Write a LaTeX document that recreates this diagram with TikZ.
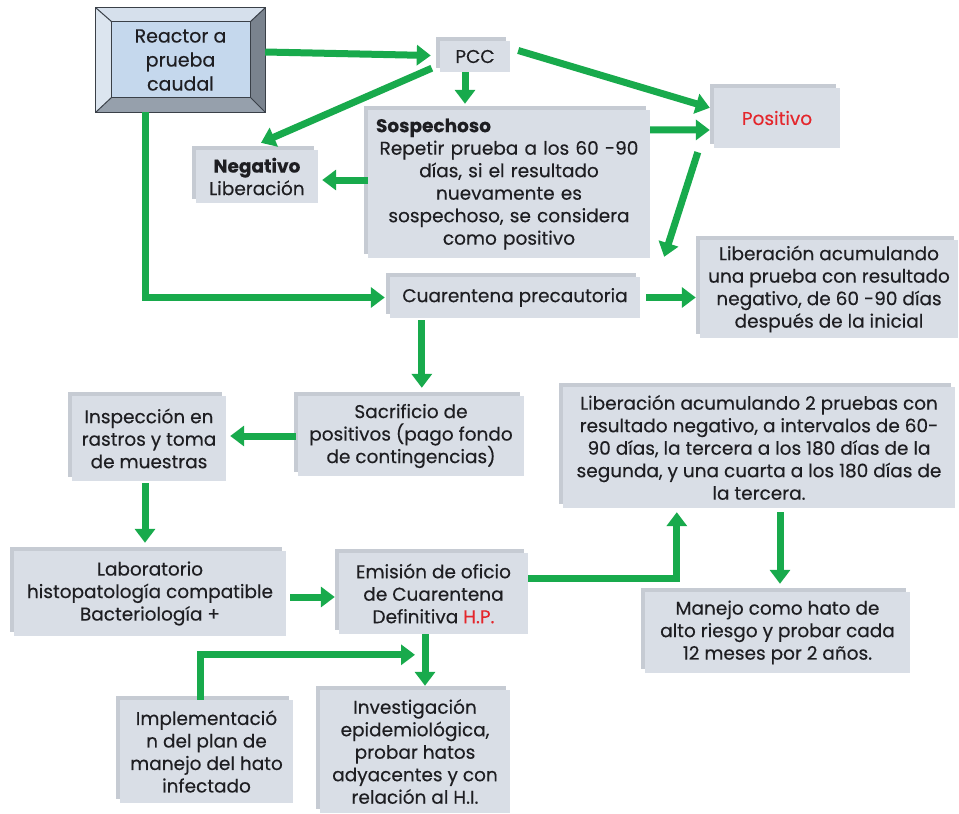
\documentclass[tikz,border=0pt]{standalone}
\usepackage{fontspec}
\setmainfont{Poppins}[FakeBold=0.3]
\usetikzlibrary{arrows.meta,calc,shadows,backgrounds}

\definecolor{flowgreen}{RGB}{24,170,76}
\definecolor{cardfill}{RGB}{217,222,230}
\definecolor{cardback}{RGB}{198,203,211}
\definecolor{hotred}{RGB}{228,38,44}
\definecolor{inktext}{RGB}{30,30,34}
\definecolor{bevline}{RGB}{58,64,72}
\definecolor{bevface}{RGB}{197,216,237}
\definecolor{bevtop}{RGB}{214,224,236}
\definecolor{bevleft}{RGB}{220,229,239}
\definecolor{bevright}{RGB}{122,131,142}
\definecolor{bevbottom}{RGB}{150,160,172}

\begin{document}
\begin{tikzpicture}[x=1pt,y=-1pt,
  font=\fontsize{18.5}{22.5}\selectfont,text=inktext,
  flow/.style={draw=flowgreen,line width=7pt,-{Triangle[width=20pt,length=14pt]}},
  card/.style={fill=cardfill,align=center,inner sep=0pt,
    copy shadow={shadow xshift=-4pt,shadow yshift=4pt,fill=cardback,draw=none}}]
  \useasboundingbox (0,0) rectangle (959,814);

  \node[minimum width=169pt,minimum height=104pt,align=center,
        font=\fontsize{19}{24}\selectfont] (reactor) at (180.5,60)
        {\raisebox{-3pt}{}Reactor a\\prueba\\caudal};
  \begin{scope}[on background layer]
    \coordinate (rin1) at ($(reactor.north west)+(16,14)$);
    \coordinate (rin2) at ($(reactor.north east)+(-15,14)$);
    \coordinate (rin3) at ($(reactor.south east)+(-15,-15)$);
    \coordinate (rin4) at ($(reactor.south west)+(16,-15)$);
    \fill[bevtop] (reactor.north west) -- (reactor.north east) -- (rin2) -- (rin1) -- cycle;
    \fill[bevright] (reactor.north east) -- (reactor.south east) -- (rin3) -- (rin2) -- cycle;
    \fill[bevbottom] (reactor.south east) -- (reactor.south west) -- (rin4) -- (rin3) -- cycle;
    \fill[bevleft] (reactor.south west) -- (reactor.north west) -- (rin1) -- (rin4) -- cycle;
    \draw[bevline,line width=1pt] (reactor.north west) -- (rin1)
      (reactor.north east) -- (rin2) (reactor.south east) -- (rin3)
      (reactor.south west) -- (rin4);
    \draw[bevline,line width=1.2pt,fill=bevface] (rin1) rectangle (rin3);
    \draw[bevline,line width=1.2pt] (reactor.north west) rectangle (reactor.south east);
  \end{scope}

  \node[card,minimum width=70pt,minimum height=31pt] (pcc) at (475,56.5) {PCC};
  \node[card,minimum width=282pt,minimum height=148pt,text width=266pt] (sosp) at (509,184)
    {\textbf{Sospechoso}\hfill\null\\Repetir prueba a los 60 -90\\días, si el resultado\\nuevamente es\\sospechoso, se considera\\como positivo};
  \node[card,minimum width=122pt,minimum height=53pt] (neg) at (257,176.5)
    {\textbf{Negativo}\\Liberación};
  \node[card,minimum width=126pt,minimum height=60pt] (pos) at (777,118)
    {\textcolor{hotred}{Positivo}};
  \node[card,minimum width=250pt,minimum height=41pt] (cuar) at (515,297.5)
    {Cuarentena precautoria};
  \node[card,minimum width=258pt,minimum height=98pt] (lib1) at (829,289)
    {Liberación acumulando\\una prueba con resultado\\negativo, de 60 -90 días\\después de la inicial};
  \node[card,minimum width=226pt,minimum height=80pt] (sacr) at (411,436)
    {Sacrificio de\\positivos (pago fondo\\de contingencias)};
  \node[card,minimum width=154pt,minimum height=85pt] (insp) at (149,438.5)
    {Inspección en\\rastros y toma\\de muestras};
  \node[card,minimum width=392pt,minimum height=121pt] (lib2) at (759,447.5)
    {Liberación acumulando 2 pruebas con\\resultado negativo, a intervalos de 60-\\90 días, la tercera a los 180 días de la\\segunda, y una cuarta a los 180 días de\\la tercera.};
  \node[card,minimum width=272pt,minimum height=85pt] (lab) at (150,593.5)
    {Laboratorio\\histopatología compatible\\Bacteriología +};
  \node[card,minimum width=189pt,minimum height=81pt] (emis) at (433.5,593.5)
    {Emisión de oficio\\de Cuarentena\\Definitiva \textcolor{hotred}{H.P.}};
  \node[card,minimum width=265pt,minimum height=81pt] (manejo) at (777.5,632.5)
    {Manejo como hato de\\alto riesgo y probar cada\\12 meses por 2 años.};
  \node[card,minimum width=173pt,minimum height=103pt] (impl) at (206.5,751.5)
    {Implementació\\n del plan de\\manejo del hato\\infectado};
  \node[card,minimum width=190pt,minimum height=123pt] (inv) at (415,751.5)
    {Investigación\\epidemiológica,\\probar hatos\\adyacentes y con\\relación al H.I.};

  % upper part
  \draw[flow] ($(reactor.east)+(0,-8)$) -- ($(pcc.west)+(-9,-1)$);
  \draw[flow] ($(pcc.south)+(-10,0)$) -- ($(sosp.north)+(-44,-6)$);
  \draw[flow] ($(pcc.south west)+(-8,-4)$) -- ($(neg.north)+(4,-7)$);
  \draw[flow] ($(pcc.east)+(8,-6)$) -- ($(pos.north west)+(-4,20)$);
  \draw[flow] ($(sosp.north east)+(0,20)$) -- ($(pos.west)+(-4,12)$);
  \draw[flow] ($(sosp.west)+(0,-4)$) -- ($(neg.east)+(4,3.5)$);
  \draw[flow] ($(pos.south west)+(-16,4)$) -- ($(cuar.north east)+(24,-20)$);
  \draw[flow] ($(reactor.south)+(-35,0)$) |- ($(cuar.west)+(-5,0)$);
  \draw[flow] ($(cuar.east)+(6,0)$) -- ($(lib1.west)+(-4,8.5)$);
  % lower part
  \draw[flow] ($(cuar.south west)+(32,2)$) -- ($(sacr.north west)+(124,-8)$);
  \draw[flow] ($(sacr.west)+(-2,0)$) -- ($(insp.east)+(4,-2.5)$);
  \draw[flow] ($(insp.south)+(-4,2)$) -- ($(lab.north)+(-5,-8)$);
  \draw[flow] ($(lab.east)+(4,3.5)$) -- ($(emis.west)+(-4,3.5)$);
  \draw[flow] ($(emis.east)+(0,-15.5)$) -| ($(lib2.south west)+(114,4)$);
  \draw[flow] ($(lib2.south)+(21,4)$) -- ($(manejo.north)+(2.5,-8)$);
  \draw[flow] ($(emis.south)+(-8.5,0)$) -- ($(inv.north)+(10,-4)$);
  \draw[flow] ($(impl.north)+(-6.5,0)$) |- ($(inv.north)+(0,-35)$);
\end{tikzpicture}
\end{document}
